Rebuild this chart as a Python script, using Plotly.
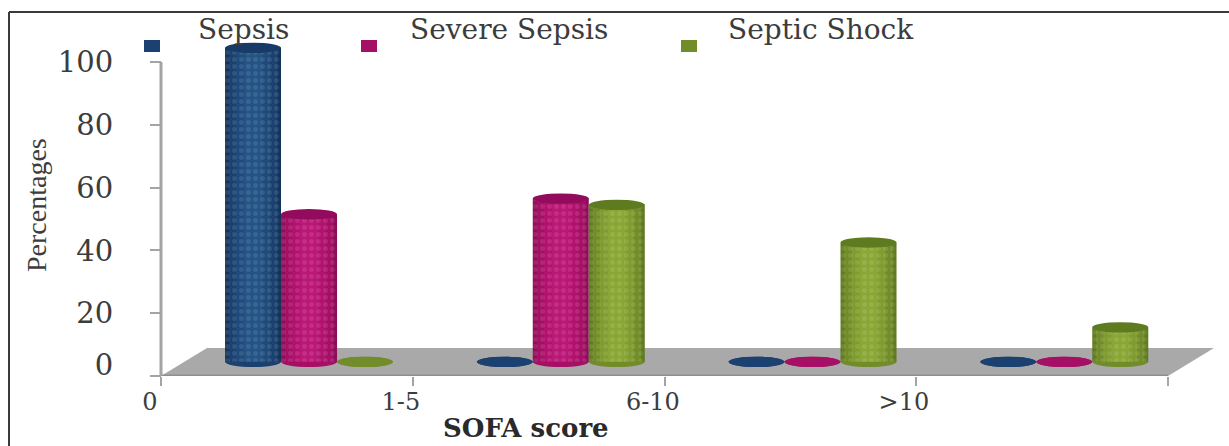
import plotly.graph_objects as go

W, H = 1229, 446

# Chart data
categories = ["1-5", "6-10", ">10", ""]
sepsis = [100, 0, 0, 0]
severe_sepsis = [47, 52, 0, 0]
septic_shock = [0, 50, 38, 11]

x_tick_labels = ["0", "1-5", "6-10", ">10"]
y_tick_labels = ["0", "20", "40", "60", "80", "100"]

series = [
    ("Sepsis", sepsis, ["#14345c", "#1a4170", "#1f4b7c", "#245485"], "#173b66"),
    ("Severe Sepsis", severe_sepsis, ["#8e0c58", "#a60f66", "#b2126e", "#bb1776"], "#920b5c"),
    ("Septic Shock", septic_shock, ["#5f7a1f", "#718c28", "#7f9c2e", "#8aa736"], "#5f7b20"),
]

# Axis scale: one x unit is one SOFA band, y is percent
X_PER_PX = 1 / 251.75
Y_PER_PX = 1 / 3.14
X0_PX, Y0_PX = 161, 376
x_range = [-X0_PX * X_PER_PX, (W - X0_PX) * X_PER_PX]
y_range = [0, Y0_PX * Y_PER_PX]

# The bars stand in the middle of the floor, which shifts them back and up
DEPTH_X = 0.088
DEPTH_Y = 4.5
BAR_W = 56 * X_PER_PX
CAP_H = 5.2 * Y_PER_PX
SHADE_WIDTHS = [1.0, 0.86, 0.6, 0.32]


def px(x):
    return x / W


def py(y):
    return 1 - y / H


fig = go.Figure()
shapes = []

# Grey floor with its darker front edge
fx, fy = 46 * X_PER_PX, 28 * Y_PER_PX
shapes.append(dict(type="path", path=f"M 0 0 L {fx} {fy} L {4 + fx} {fy} L 4 0 Z",
                   xref="x", yref="y", fillcolor="#a9a9a9", line_width=0, layer="below"))
shapes.append(dict(type="line", xref="x", yref="y", x0=0, x1=4, y0=0, y1=0,
                   line=dict(color="#8f8f8f", width=3), layer="below"))
shapes.append(dict(type="line", xref="x", yref="y", x0=0, x1=0, y0=0, y1=100,
                   line=dict(color="#a4a4a4", width=3), layer="below"))

# Cylinders: nested bars for the round shading, a dotted knit on top
for s, (name, values, shades, cap) in enumerate(series):
    xs = [i + 0.5 + DEPTH_X + (s - 1) * BAR_W for i in range(len(values))]
    for k, (scale, color) in enumerate(zip(SHADE_WIDTHS, shades)):
        fig.add_trace(go.Bar(x=xs, y=values, base=[DEPTH_Y] * len(values), width=BAR_W * scale,
                             marker=dict(color=color, line_width=0),
                             name=name, showlegend=False, hoverinfo="skip" if k else None))
    fig.add_trace(go.Bar(x=xs, y=values, base=[DEPTH_Y] * len(values), width=BAR_W,
                         marker=dict(color="rgba(0,0,0,0)", line_width=0,
                                     pattern=dict(shape=".", size=7, solidity=0.4,
                                                  fgcolor="rgba(255,255,255,0.2)",
                                                  bgcolor="rgba(0,0,0,0)")),
                         name=name, showlegend=False, hoverinfo="skip"))
    for xc, v in zip(xs, values):
        # Rounded foot under each bar, and the cap on top of it
        shapes.append(dict(type="circle", xref="x", yref="y", layer="between",
                           x0=xc - BAR_W / 2, x1=xc + BAR_W / 2,
                           y0=DEPTH_Y - CAP_H, y1=DEPTH_Y + CAP_H,
                           fillcolor=shades[1], line_width=0))
        shapes.append(dict(type="circle", xref="x", yref="y", layer="above",
                           x0=xc - BAR_W / 2, x1=xc + BAR_W / 2,
                           y0=DEPTH_Y + v - CAP_H, y1=DEPTH_Y + v + CAP_H,
                           fillcolor=cap if v else shades[1], line_width=0))

# Axis labels sit on their own overlaid axes, slightly off the tick marks
fig.add_trace(go.Scatter(x=[None], y=[None], xaxis="x2", yaxis="y2", showlegend=False, hoverinfo="skip"))

axis_font = dict(family="DejaVu Serif", size=29, color="#3c3c3c")
fig.update_layout(
    width=W, height=H, margin=dict(l=0, r=0, t=0, b=0), autosize=False,
    paper_bgcolor="white", plot_bgcolor="rgba(0,0,0,0)", barmode="overlay", showlegend=False,
    xaxis=dict(domain=[0, 1], range=x_range, tickvals=[0, 1, 2, 3, 4], showticklabels=False,
               ticks="outside", ticklen=9, tickwidth=2, tickcolor="#a4a4a4", automargin=False,
               showgrid=False, zeroline=False, showline=False),
    yaxis=dict(domain=[1 - Y0_PX / H, 1], range=y_range, tickvals=[0, 20, 40, 60, 80, 100],
               showticklabels=False, anchor="free", position=X0_PX / W, automargin=False,
               ticks="outside", ticklen=11, tickwidth=2, tickcolor="#a4a4a4",
               showgrid=False, zeroline=False, showline=False),
    xaxis2=dict(domain=[0, 1], range=x_range, overlaying="x", anchor="y", automargin=False,
                tickvals=[-0.044, 0.953, 1.954, 2.951], ticktext=x_tick_labels,
                ticks="outside", ticklen=4, tickcolor="rgba(0,0,0,0)",
                tickfont=dict(family="DejaVu Serif", size=24, color="#3c3c3c"),
                showgrid=False, zeroline=False, showline=False),
    yaxis2=dict(domain=[1 - Y0_PX / H, 1], range=y_range, overlaying="y", anchor="free",
                position=X0_PX / W, tickvals=[3.5, 20, 40, 60, 80, 100], ticktext=y_tick_labels,
                ticks="outside", ticklen=42, tickcolor="rgba(0,0,0,0)", tickfont=axis_font,
                automargin=False, showgrid=False, zeroline=False, showline=False),
)

# Frame along the top and left edges
shapes.append(dict(type="line", xref="paper", yref="paper", x0=px(9), x1=1, y0=py(12), y1=py(12),
                   line=dict(color="#3a3a3a", width=2), layer="below"))
shapes.append(dict(type="line", xref="paper", yref="paper", x0=px(9), x1=px(9), y0=py(12), y1=0,
                   line=dict(color="#3a3a3a", width=2), layer="below"))

# Legend swatches and their labels
legend_swatch_x = [152, 369, 689]
legend_label_x = [243, 509, 821]
for (name, values, shades, cap), sx, lx in zip(series, legend_swatch_x, legend_label_x):
    shapes.append(dict(type="rect", xref="paper", yref="paper", x0=px(sx - 8), x1=px(sx + 8),
                       y0=py(52), y1=py(40), fillcolor=shades[1], line_width=0))
    fig.add_annotation(x=px(lx), y=py(30), xref="paper", yref="paper", text=name, showarrow=False,
                       xanchor="center", yanchor="middle",
                       font=dict(family="DejaVu Serif", size=28, color="#3c3c3c"))

# Axis titles
fig.add_annotation(x=px(36), y=py(205), xref="paper", yref="paper", text="Percentages", showarrow=False,
                   xanchor="center", yanchor="middle",
                   textangle=-90, font=dict(family="Liberation Serif", size=28, color="#3c3c3c"))
fig.add_annotation(x=px(526), y=py(428), xref="paper", yref="paper", text="<b>SOFA score</b>", showarrow=False,
                   xanchor="center", yanchor="middle",
                   font=dict(family="DejaVu Serif", size=26, color="#2a2a2a"))

fig.update_layout(shapes=shapes)
fig.write_html("out.html")
